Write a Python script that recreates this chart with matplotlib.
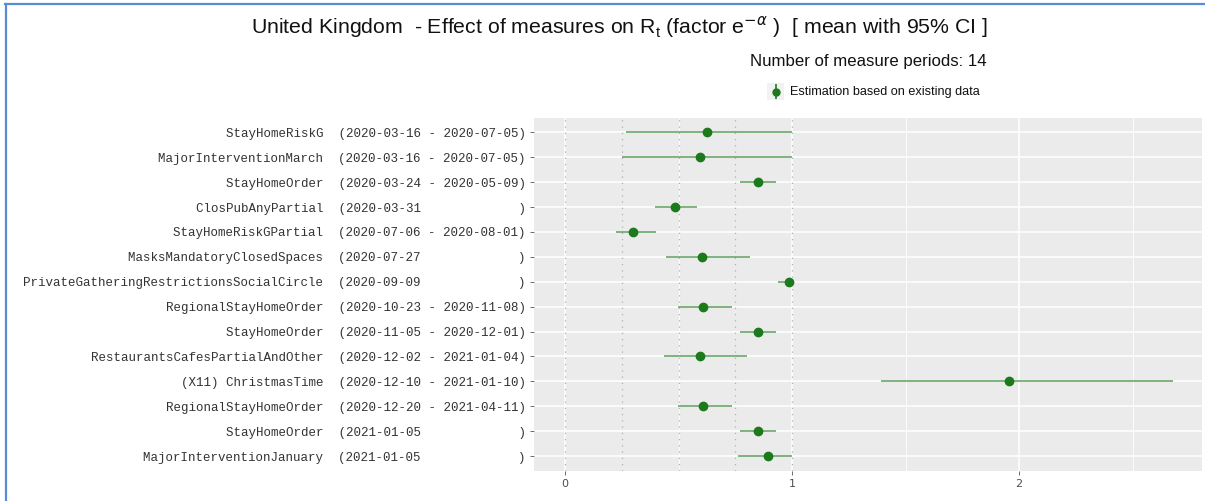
import matplotlib.pyplot as plt
from matplotlib.lines import Line2D
from matplotlib.patches import Rectangle
import numpy as np

# measures, periods and estimated factor e^-alpha (mean, 95% CI)
measures = ['StayHomeRiskG', 'MajorInterventionMarch', 'StayHomeOrder', 'ClosPubAnyPartial',
            'StayHomeRiskGPartial', 'MasksMandatoryClosedSpaces',
            'PrivateGatheringRestrictionsSocialCircle', 'RegionalStayHomeOrder', 'StayHomeOrder',
            'RestaurantsCafesPartialAndOther', '(X11) ChristmasTime', 'RegionalStayHomeOrder',
            'StayHomeOrder', 'MajorInterventionJanuary']
starts = ['2020-03-16', '2020-03-16', '2020-03-24', '2020-03-31', '2020-07-06', '2020-07-27',
          '2020-09-09', '2020-10-23', '2020-11-05', '2020-12-02', '2020-12-10', '2020-12-20',
          '2021-01-05', '2021-01-05']
ends = ['2020-07-05', '2020-07-05', '2020-05-09', '', '2020-08-01', '', '', '2020-11-08',
        '2020-12-01', '2021-01-04', '2021-01-10', '2021-04-11', '', '']
mean = [0.625, 0.594, 0.848, 0.486, 0.300, 0.602, 0.988, 0.606, 0.848, 0.596, 1.954, 0.606, 0.848, 0.893]
lower = [0.27, 0.25, 0.77, 0.396, 0.223, 0.443, 0.94, 0.497, 0.77, 0.435, 1.393, 0.497, 0.77, 0.76]
upper = [1.0, 1.0, 0.93, 0.58, 0.40, 0.814, 1.0, 0.735, 0.93, 0.80, 2.68, 0.735, 0.93, 1.0]
ref_lines = [0, 0.25, 0.5, 0.75, 1.0]

labels = []
for m, s, e in zip(measures, starts, ends):
    if e:
        labels.append(f'{m}  ({s} - {e})')
    else:
        labels.append(f'{m}  ({s}{" " * 13})')

fig = plt.figure(figsize=(12.05, 5.01), dpi=100)
ax = fig.add_axes([534 / 1205, 1 - 470.7 / 501, (1202 - 534) / 1205, (470.7 - 117.7) / 501])
ax.set_facecolor('#ebebeb')

y = np.arange(1, len(measures) + 1)
ax.set_xlim(-0.137, 2.806)
ax.set_ylim(len(measures) + 0.59, 0.41)

for v in [0.5, 1.5, 2.5]:
    ax.axvline(v, color='white', lw=0.6, zorder=0)
for v in [0, 1, 2]:
    ax.axvline(v, color='white', lw=1.1, zorder=0)
for yy in y:
    ax.axhline(yy, color='white', lw=1.1, zorder=0)
for v in ref_lines:
    ax.axvline(v, color='#b0b0b0', lw=0.9, ls=(0, (1, 4)), zorder=1)

ax.hlines(y, lower, upper, color='#3c8c3c', lw=1.4, alpha=0.65, zorder=2)
ax.plot(mean, y, 'o', color='#1c7a1c', ms=6, zorder=3)

ax.set_yticks(y)
ax.set_yticklabels(labels, family=['Liberation Mono', 'DejaVu Sans Mono'], fontsize=9.0, color='#333333')
ax.set_xticks([0, 1, 2])
ax.set_xticklabels(['0', '1', '2'], fontsize=8, color='#4d4d4d')
ax.tick_params(axis='both', length=3, width=0.6, color='#555555', pad=3)
for sp in ax.spines.values():
    sp.set_visible(False)

sans = ['Liberation Sans', 'DejaVu Sans']
fig.text(620 / 1205, 1 - 27 / 501,
         r'United Kingdom  - Effect of measures on R$_\mathregular{t}$ (factor e$^{-\alpha}$ )  [ mean with 95% CI ]',
         ha='center', va='center', fontsize=15.3, family=sans, color='#111111')
fig.text(987 / 1205, 1 - 62 / 501, 'Number of measure periods: 14',
         ha='right', va='center', fontsize=12.1, family=sans, color='#111111')

# legend key
fig.add_artist(Rectangle((767 / 1205, 1 - 100 / 501), 17 / 1205, 17 / 501,
                         transform=fig.transFigure, facecolor='#f2f2f2', edgecolor='none'))
fig.add_artist(Line2D([775.5 / 1205] * 2, [1 - 98 / 501, 1 - 85 / 501],
                      transform=fig.transFigure, color='#3c8c3c', lw=1.4))
fig.add_artist(Line2D([775.5 / 1205], [1 - 91.5 / 501], transform=fig.transFigure,
                      marker='o', color='#1c7a1c', ms=5))
fig.text(790 / 1205, 1 - 92 / 501, 'Estimation based on existing data',
         ha='left', va='center', fontsize=9.1, family=sans, color='#111111')

# outer frame
fig.add_artist(Line2D([5 / 1205, 1], [1 - 4 / 501] * 2, transform=fig.transFigure,
                      color='#5b8bd8', lw=1.6))
fig.add_artist(Line2D([6 / 1205] * 2, [0, 1 - 4 / 501], transform=fig.transFigure,
                      color='#5b8bd8', lw=1.6))

fig.savefig('out.png', dpi=100)
